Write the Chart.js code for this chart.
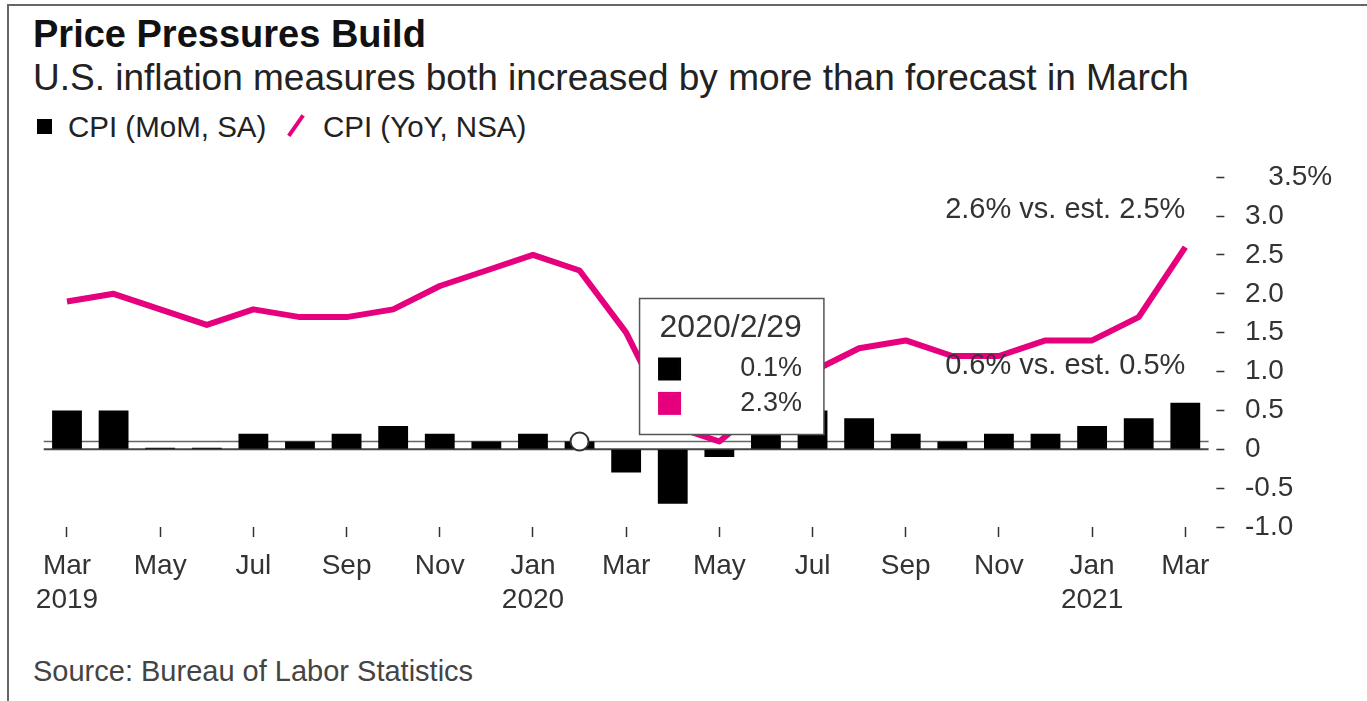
<!DOCTYPE html>
<html>
<head>
<meta charset="utf-8">
<title>Price Pressures Build</title>
<script src="https://cdn.jsdelivr.net/npm/chart.js@4.4.1/dist/chart.umd.min.js"></script>
<style>
  body { margin: 0; background: #fff; font-family: 'Liberation Sans', Arial, sans-serif; }
  #frame { position: absolute; left: 7px; top: 4px; right: 0; bottom: -10px; border-top: 2px solid #666; border-left: 2px solid #666; }
  .txt { position: absolute; white-space: nowrap; }
  #title { left: 33px; top: 15px; font-size: 38px; line-height: 38px; font-weight: bold; color: #111; }
  #subtitle { left: 33px; top: 59px; font-size: 37px; line-height: 37px; color: #222; }
  #source { left: 33px; top: 657px; font-size: 29px; line-height: 29px; color: #444; }
  .leg { font-size: 29.5px; line-height: 29px; color: #222; top: 112px; }
  #wrap { position: absolute; left: 0; top: 140px; width: 1367px; height: 500px; }
</style>
</head>
<body>
<div id="frame"></div>
<div id="title" class="txt">Price Pressures Build</div>
<div id="subtitle" class="txt">U.S. inflation measures both increased by more than forecast in March</div>
<div id="legend"></div>
<div id="wrap"><canvas id="myChart"></canvas></div>
<div id="source" class="txt">Source: Bureau of Labor Statistics</div>

<script>
const months = [
  '2019-03', '2019-04', '2019-05', '2019-06', '2019-07', '2019-08', '2019-09', '2019-10', '2019-11', '2019-12',
  '2020-01', '2020-02', '2020-03', '2020-04', '2020-05', '2020-06', '2020-07', '2020-08', '2020-09', '2020-10',
  '2020-11', '2020-12', '2021-01', '2021-02', '2021-03'
];
const momSA = [0.5, 0.5, 0.02, 0.02, 0.2, 0.1, 0.2, 0.3, 0.2, 0.1, 0.2, 0.1, -0.3, -0.7, -0.1, 0.5, 0.5, 0.4, 0.2, 0.1, 0.2, 0.2, 0.3, 0.4, 0.6];
const yoyNSA = [1.9, 2.0, 1.8, 1.6, 1.8, 1.7, 1.7, 1.8, 2.1, 2.3, 2.5, 2.3, 1.5, 0.3, 0.1, 0.6, 1.0, 1.3, 1.4, 1.2, 1.2, 1.4, 1.4, 1.7, 2.6];
const xTickLabels = [
  ['Mar', '2019'], null, 'May', null, 'Jul', null, 'Sep', null, 'Nov', null,
  ['Jan', '2020'], null, 'Mar', null, 'May', null, 'Jul', null, 'Sep', null,
  'Nov', null, ['Jan', '2021'], null, 'Mar'
];
const yTicks = [-1.0, -0.5, 0, 0.5, 1.0, 1.5, 2.0, 2.5, 3.0, 3.5];
const momEst = 0.5;
const yoyEst = 2.5;
const hoverIndex = 11;

const BLACK = '#000';
const PINK = '#e6007e';
const TEXT = '#333';

Chart.defaults.font.family = "'Liberation Sans', Arial, sans-serif";
Chart.defaults.color = TEXT;

// legend built from the dataset labels
const legendItems = [
  { label: 'CPI (MoM, SA)', kind: 'box' },
  { label: 'CPI (YoY, NSA)', kind: 'slash' }
];
const legendEl = document.getElementById('legend');
legendEl.innerHTML =
  '<div class="txt" style="left:37px;top:119px;width:15px;height:15px;background:' + BLACK + '"></div>' +
  '<div class="txt leg" style="left:68px">' + legendItems[0].label + '</div>' +
  '<div class="txt" style="left:294px;top:113px;width:3.5px;height:25px;background:' + PINK + ';transform:rotate(35deg)"></div>' +
  '<div class="txt leg" style="left:323px">' + legendItems[1].label + '</div>';

function tooltipTitle(i) {
  const [yr, mo] = months[i].split('-').map(Number);
  const lastDay = new Date(yr, mo, 0).getDate();
  return yr + '/' + mo + '/' + lastDay;
}

Chart.Tooltip.positioners.beside = function (items) {
  if (!items.length) return false;
  const el = items[0].element;
  return { x: el.x + 60, y: el.y - 75 };
};

const extras = {
  id: 'extras',
  beforeDatasetsDraw(chart) {
    const { ctx, chartArea, scales } = chart;
    const bar = chart.getDatasetMeta(1).data[hoverIndex];
    const y0 = scales.y.getPixelForValue(0);
    ctx.save();
    ctx.strokeStyle = '#444';
    ctx.lineWidth = 2;
    ctx.beginPath();
    ctx.moveTo(chartArea.left, y0);
    ctx.lineTo(chartArea.right, y0);
    ctx.stroke();
    ctx.strokeStyle = '#666';
    ctx.lineWidth = 1.5;
    ctx.beginPath();
    ctx.moveTo(chartArea.left, bar.y);
    ctx.lineTo(chartArea.right, bar.y);
    ctx.stroke();
    ctx.restore();
  },
  afterDatasetsDraw(chart) {
    const { ctx } = chart;
    const bars = chart.getDatasetMeta(1).data;
    const pts = chart.getDatasetMeta(0).data;
    const bar = bars[hoverIndex];
    ctx.save();
    ctx.beginPath();
    ctx.arc(bar.x, bar.y, 9, 0, Math.PI * 2);
    ctx.fillStyle = '#fff';
    ctx.fill();
    ctx.strokeStyle = '#333';
    ctx.lineWidth = 2;
    ctx.stroke();

    const last = months.length - 1;
    ctx.font = "29px 'Liberation Sans', Arial, sans-serif";
    ctx.fillStyle = TEXT;
    ctx.textAlign = 'right';
    ctx.textBaseline = 'middle';
    ctx.fillText(yoyNSA[last].toFixed(1) + '% vs. est. ' + yoyEst.toFixed(1) + '%', pts[last].x, pts[last].y - 37);
    ctx.fillText(momSA[last].toFixed(1) + '% vs. est. ' + momEst.toFixed(1) + '%', bars[last].x, bars[last].y - 37);
    ctx.restore();
  }
};

const ctx = document.getElementById('myChart').getContext('2d');
const myChart = new Chart(ctx, {
  type: 'bar',
  data: {
    labels: months,
    datasets: [
      {
        type: 'line',
        label: legendItems[1].label,
        data: yoyNSA,
        borderColor: PINK,
        backgroundColor: PINK,
        borderWidth: 6,
        borderJoinStyle: 'round',
        pointRadius: 0,
        pointHoverRadius: 0,
        tension: 0,
        order: 0
      },
      {
        type: 'bar',
        label: legendItems[0].label,
        data: momSA,
        backgroundColor: BLACK,
        hoverBackgroundColor: BLACK,
        barPercentage: 0.64,
        categoryPercentage: 1,
        order: 1
      }
    ]
  },
  options: {
    responsive: true,
    maintainAspectRatio: false,
    animation: false,
    events: [],
    layout: { padding: { left: 43.7, right: 0, top: 27, bottom: 0 } },
    plugins: {
      legend: { display: false },
      tooltip: {
        enabled: true,
        position: 'beside',
        xAlign: 'left',
        yAlign: 'center',
        caretSize: 0,
        caretPadding: 0,
        backgroundColor: '#fff',
        borderColor: '#555',
        borderWidth: 1.5,
        cornerRadius: 0,
        padding: { left: 20, right: 22, top: 11, bottom: 15 },
        titleColor: TEXT,
        bodyColor: TEXT,
        titleFont: { size: 32, weight: 'normal' },
        bodyFont: { size: 27 },
        titleMarginBottom: 5,
        bodySpacing: 2,
        bodyAlign: 'right',
        boxWidth: 20,
        boxHeight: 20,
        boxPadding: 0,
        callbacks: {
          title: items => tooltipTitle(items[0].dataIndex),
          label: item => item.parsed.y.toFixed(1) + '%',
          labelColor: item => {
            const c = item.datasetIndex === 1 ? BLACK : PINK;
            return { borderColor: c, backgroundColor: c, borderWidth: 3 };
          }
        }
      }
    },
    scales: {
      x: {
        offset: true,
        grid: { display: true, offset: false, drawOnChartArea: false, drawTicks: true, tickLength: 10, tickColor: '#333', tickWidth: 1.5 },
        border: { display: false },
        ticks: {
          autoSkip: false,
          maxRotation: 0,
          padding: 12,
          color: TEXT,
          font: { size: 28, lineHeight: 1.215 },
          callback: (v, i) => xTickLabels[i]
        },
        afterFit: s => { s.height = 113; }
      },
      y: {
        position: 'right',
        min: yTicks[0],
        max: yTicks[yTicks.length - 1],
        afterBuildTicks: s => { s.ticks = yTicks.map(v => ({ value: v })); },
        grid: {
          display: true, drawOnChartArea: false, drawTicks: true,
          tickLength: 16, tickColor: '#333', tickWidth: 1.5,
          tickBorderDash: [0, 7.4, 8, 100]
        },
        border: { display: false },
        ticks: {
          padding: 20.4,
          color: TEXT,
          font: { size: 28 },
          callback: v => {
            if (v === yTicks[yTicks.length - 1]) return '\u2007 ' + v.toFixed(1) + '%';
            if (v === 0) return '0';
            return v.toFixed(1);
          }
        },
        afterFit: s => { s.width = 158.4; }
      }
    }
  },
  plugins: [extras]
});

myChart.tooltip.setActiveElements(
  [{ datasetIndex: 1, index: hoverIndex }, { datasetIndex: 0, index: hoverIndex }],
  { x: 0, y: 0 }
);
myChart.update();
</script>
</body>
</html>
